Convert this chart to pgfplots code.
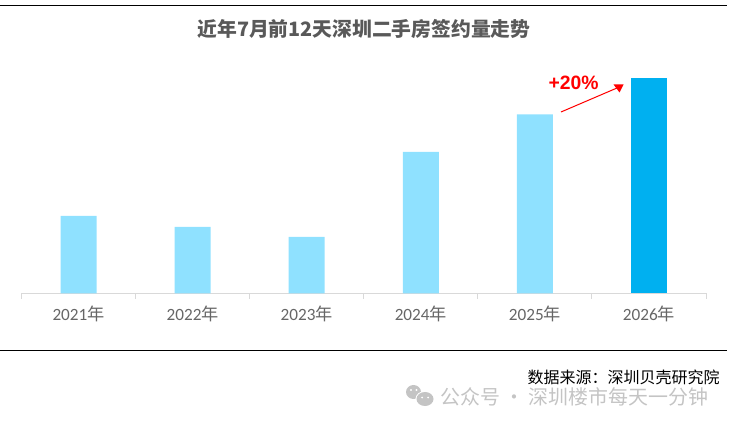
\documentclass[border=0pt]{standalone}
\usepackage{pgfplots}
\pgfplotsset{compat=1.18}
\usepackage{fontspec}
\setmainfont{Carlito}
\newfontfamily\cjk{Noto Sans CJK SC}
\newfontfamily\lib{Liberation Sans}
\definecolor{lightbar}{HTML}{8FE1FF}
\definecolor{darkbar}{HTML}{00B0F0}
\definecolor{labelgray}{HTML}{666666}
\definecolor{titlegray}{HTML}{595959}
\definecolor{axisgray}{HTML}{D9D9D9}
\definecolor{markgray}{HTML}{C4C4C4}
\begin{document}
\begin{tikzpicture}
\useasboundingbox (0,0) rectangle (549pt,318.75pt);
\begin{axis}[
  at={(16.125pt,98.625pt)}, anchor=south west,
  scale only axis, width=513.375pt, height=195pt,
  xmin=-0.5, xmax=5.5, ymin=0, ymax=260,
  axis y line=none, axis x line*=bottom,
  axis line style={axisgray, line width=0.75pt, -},
  xtick={0,1,2,3,4,5},
  xticklabels={2021{\cjk 年},2022{\cjk 年},2023{\cjk 年},2024{\cjk 年},2025{\cjk 年},2026{\cjk 年}},
  x tick label style={font=\fontsize{12.9pt}{14pt}\selectfont, text=labelgray, yshift=-5.8pt},
  major tick length=0pt,
  minor xtick={-0.5,0.5,1.5,2.5,3.5,4.5,5.5},
  minor tick length=4pt,
  minor tick style={axisgray, line width=0.75pt},
  tick align=outside,
  every tick/.style={axisgray},
  ybar, bar width=27pt, bar shift=0pt,
  clip=false,
]
\addplot[fill=lightbar, draw=none] coordinates {(0,77.5) (1,66.5) (2,56.5) (3,141.5) (4,179)};
\addplot[fill=darkbar, draw=none] coordinates {(5,215.5)};
\end{axis}
\begin{scope}[x=0.75pt, y=-0.75pt, yshift=318.75pt]
\draw[black, line width=0.75pt] (0,5.5) -- (727,5.5);
\draw[black, line width=0.75pt] (0,350.5) -- (727,350.5);
\node[text=titlegray, font=\cjk\bfseries\fontsize{14.85pt}{17pt}\selectfont, anchor=center] at (364,29.5) {近年7月前12天深圳二手房签约量走势};
\draw[red, line width=0.75pt] (561,112) -- (617,88);
\fill[red] (623.5,84.5) -- (613.5,84.5) -- (619.5,92.5) -- cycle;
\node[text=red, font=\lib\bfseries\fontsize{14.5pt}{16pt}\selectfont, anchor=center] at (573.5,82.5) {+20\%};
\node[text=black, font=\cjk\fontsize{12pt}{14pt}\selectfont, anchor=east, inner sep=0pt] at (720,377) {数据来源：深圳贝壳研究院};
\node[text=markgray, font=\cjk\fontsize{14.95pt}{17pt}\selectfont, anchor=west, inner sep=0pt] at (440,396.5) {公众号 · 深圳楼市每天一分钟};
\fill[markgray] (413.5,392) ellipse (7.5 and 7);
\fill[white] (425,399) ellipse (9.5 and 8);
\fill[markgray] (425,399) ellipse (8.5 and 7);
\fill[white] (411,390) circle (1.1);
\fill[white] (416.5,390) circle (1.1);
\fill[white] (422,397.5) circle (1);
\fill[white] (428,397.5) circle (1);
\end{scope}
\end{tikzpicture}
\end{document}
